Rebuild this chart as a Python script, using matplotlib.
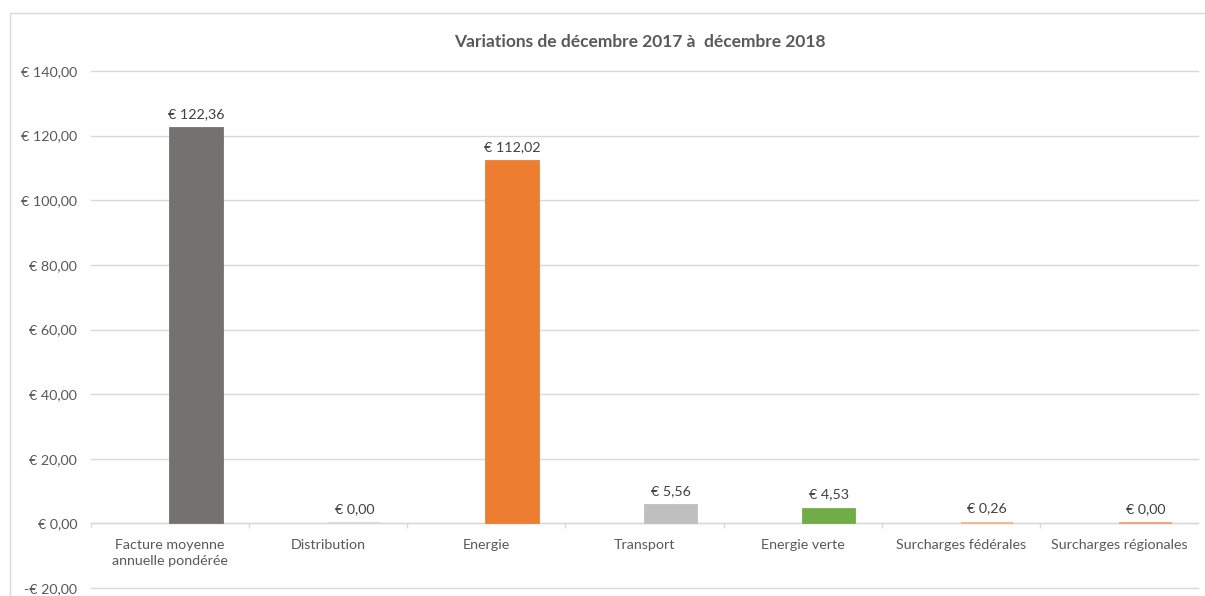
import matplotlib.pyplot as plt
import numpy as np
from matplotlib.patches import Rectangle

plt.rcParams['font.family'] = ['Lato', 'DejaVu Sans']

categories = ['Facture moyenne\nannuelle pondérée', 'Distribution', 'Energie',
              'Transport', 'Energie verte', 'Surcharges fédérales',
              'Surcharges régionales']
values = [122.36, 0.00, 112.02, 5.56, 4.53, 0.26, 0.00]
colors = ['#767171', '#D9D9D9', '#ED7D31', '#BFBFBF', '#70AD47', '#F2B48A', '#F0A070']
yticks = [-20, 0, 20, 40, 60, 80, 100, 120, 140]
title = 'Variations de décembre 2017 à  décembre 2018'

txt = '#595959'
grid = '#D9D9D9'
fs = 10.3


def euro(v):
    s = '{:,.2f}'.format(abs(v)).replace(',', ' ').replace('.', ',')
    return ('-€ ' if v < 0 else '€ ') + s


fig = plt.figure(figsize=(12.05, 5.96), dpi=100)
fig.patches.append(Rectangle((10 / 1205, -0.01), 1.0, 1 - 13 / 596 + 0.01,
                             transform=fig.transFigure, fill=False,
                             edgecolor='#D9D9D9', linewidth=1))
ax = fig.add_axes([91 / 1205, 1 - 588 / 596, 1107 / 1205, 517 / 596])

x = np.arange(len(categories))
w = 1 / 3
ax.bar(x + w / 2, values, width=w, color=colors, edgecolor=colors, linewidth=1.3, zorder=3)

for xi, v in zip(x, values):
    ax.annotate(euro(v), (xi + w / 2, v), xytext=(0, 6), textcoords='offset points',
                ha='center', va='bottom', fontsize=fs, color='#404040')
    ax.annotate(categories[xi], (xi, 0), xytext=(0, -11), textcoords='offset points',
                ha='center', va='top', fontsize=fs, color=txt, linespacing=1.45)

ax.set_xlim(-0.5, len(categories) - 0.5)
ax.set_ylim(yticks[0], yticks[-1])
ax.set_yticks(yticks)
ax.set_yticklabels([euro(t) for t in yticks], fontsize=fs, color=txt)
ax.set_xticks([])
ax.tick_params(axis='y', length=0, pad=10)
ax.grid(axis='y', color=grid, linewidth=1, zorder=0)
for gl in ax.get_ygridlines():
    gl.set_clip_on(False)
for s in ax.spines.values():
    s.set_visible(False)
ax.axhline(0, color=grid, linewidth=1, zorder=2)
ax.vlines(np.arange(len(categories) + 1) - 0.5, -1.5, 0, color=grid, linewidth=1, zorder=2)

fig.text(0.531, 1 - 42 / 596, title, ha='center', va='center', fontsize=12.5,
         fontweight='bold', color=txt)

fig.savefig('out.png', dpi=100)
